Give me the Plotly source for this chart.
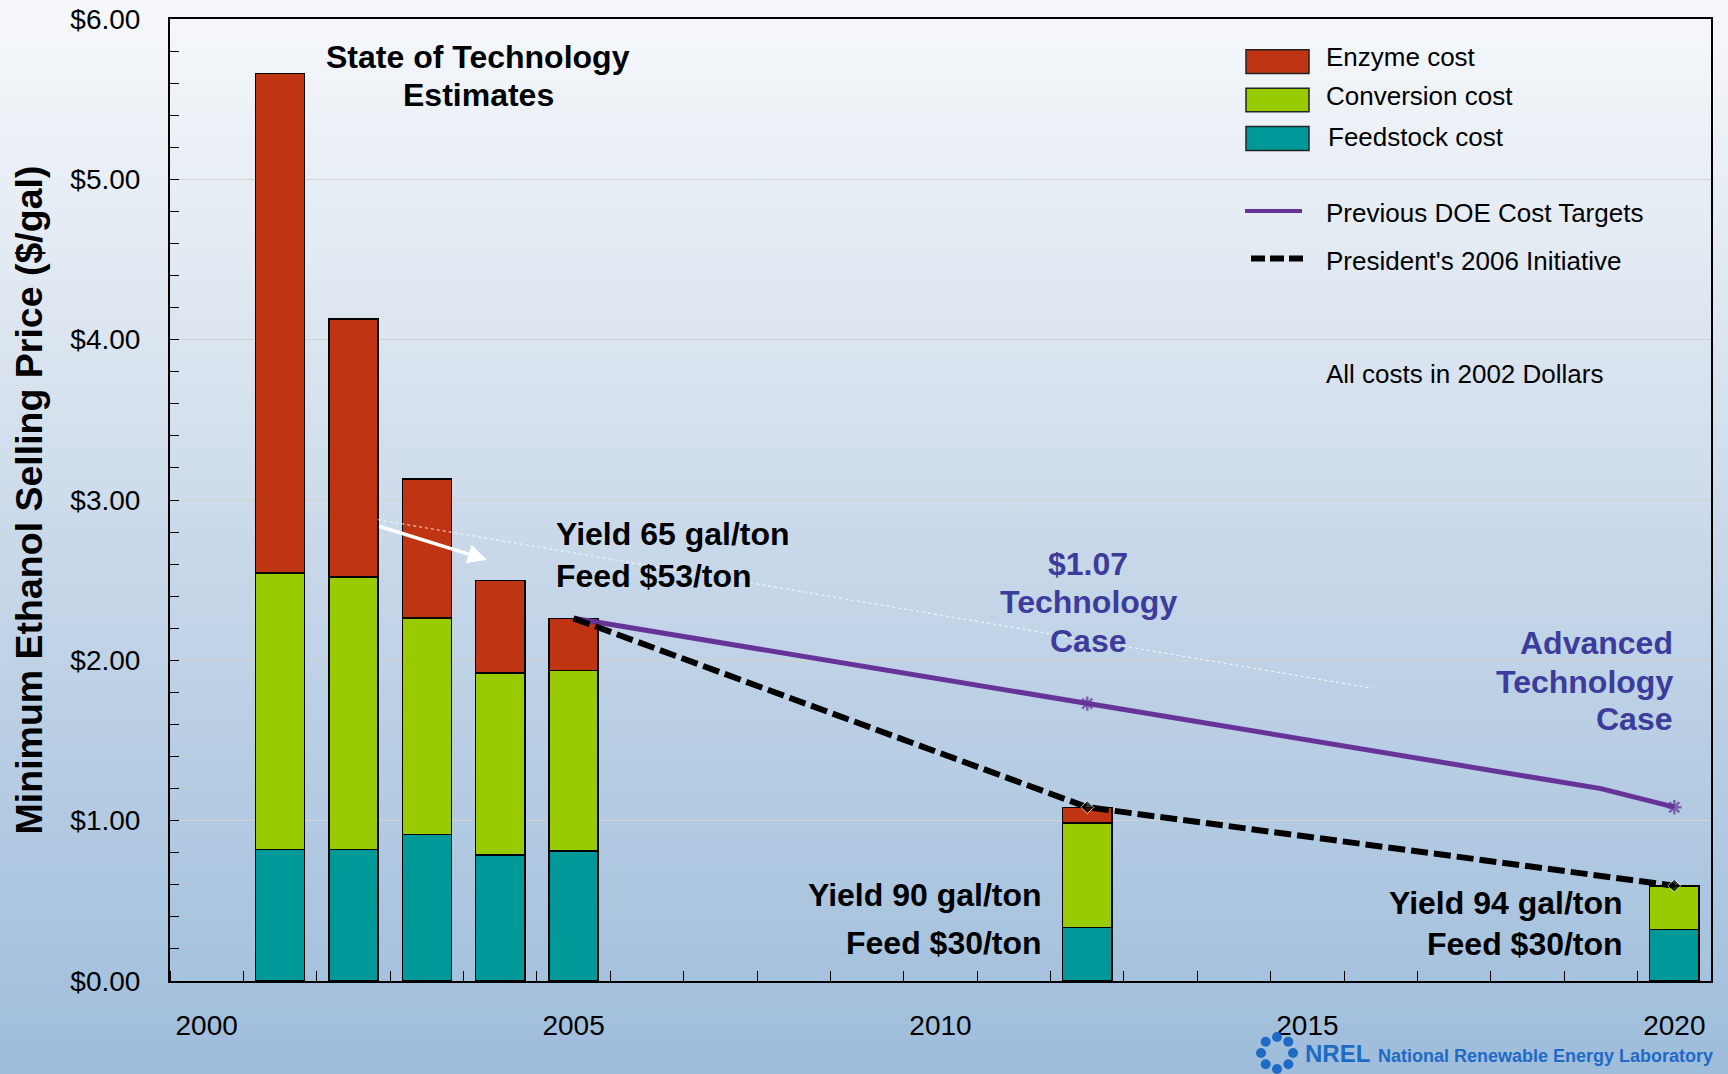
import base64
import math
import plotly.graph_objects as go

# ---------------- data ----------------
years = [2001, 2002, 2003, 2004, 2005, 2012, 2020]
feedstock_cost = [0.82, 0.82, 0.915, 0.785, 0.81, 0.335, 0.322]
conversion_cost = [1.725, 1.70, 1.35, 1.135, 1.128, 0.65, 0.272]
enzyme_cost = [3.115, 1.61, 0.865, 0.578, 0.324, 0.097, 0.0]

doe_years = [2005, 2012, 2019, 2020]
doe_targets = [2.262, 1.73, 1.20, 1.084]

pres_years = [2005, 2012, 2020]
pres_initiative = [2.262, 1.084, 0.594]

x_tick_vals = [2000, 2005, 2010, 2015, 2020]
y_tick_vals = [0, 1, 2, 3, 4, 5, 6]
y_tick_text = ["$0.00", "$1.00", "$2.00", "$3.00", "$4.00", "$5.00", "$6.00"]

# ---------------- geometry helpers (figure pixels -> paper) ----------------
W, H = 1728, 1074
ML, MR, MT, MB = 170, 17, 19, 93
PW, PH = W - ML - MR, H - MT - MB


def pp(px, py):
    return (px - ML) / PW, (H - MB - py) / PH


FONT = "Liberation Sans, Arial, sans-serif"
C_ENZ = "#BF3412"
C_CONV = "#99CC00"
C_FEED = "#009999"
C_PURPLE = "#663399"
C_LABEL = "#3C3C9C"
C_NREL = "#1F6AC3"

fig = go.Figure()

fig.add_trace(go.Bar(x=years, y=feedstock_cost, name="Feedstock cost",
                     marker=dict(color=C_FEED, line=dict(color="black", width=1.5)),
                     width=0.67))
fig.add_trace(go.Bar(x=years, y=conversion_cost, name="Conversion cost",
                     marker=dict(color=C_CONV, line=dict(color="black", width=1.5)),
                     width=0.67))
fig.add_trace(go.Bar(x=years, y=enzyme_cost, name="Enzyme cost",
                     marker=dict(color=C_ENZ, line=dict(color="black", width=1.5)),
                     width=0.67))

fig.add_trace(go.Scatter(x=doe_years, y=doe_targets, mode="lines+markers",
                         name="Previous DOE Cost Targets",
                         line=dict(color=C_PURPLE, width=5),
                         marker=dict(symbol="asterisk-open", size=[0, 12, 0, 12],
                                     color=C_PURPLE, line=dict(color=C_PURPLE, width=2.5))))
fig.add_trace(go.Scatter(x=pres_years, y=pres_initiative, mode="lines+markers",
                         name="President's 2006 Initiative",
                         line=dict(color="black", width=6, dash="17px,6px"),
                         marker=dict(symbol="diamond", size=[0, 10, 10], color="black")))

# ---------------- background gradient ----------------
svg = (
    f'<svg xmlns="http://www.w3.org/2000/svg" width="{W}" height="{H}" '
    f'viewBox="0 0 {W} {H}" preserveAspectRatio="none">'
    '<defs><linearGradient id="g" x1="0" y1="0" x2="0" y2="1">'
    '<stop offset="0" stop-color="#F6F8FB"/>'
    '<stop offset="0.3" stop-color="#DDE6F0"/>'
    '<stop offset="0.55" stop-color="#C5D6E8"/>'
    '<stop offset="1" stop-color="#9EBDDB"/>'
    '</linearGradient></defs>'
    f'<rect width="{W}" height="{H}" fill="url(#g)"/></svg>'
)
bg_src = "data:image/svg+xml;base64," + base64.b64encode(svg.encode()).decode()

images = [dict(source=bg_src, xref="paper", yref="paper",
               x=-ML / PW, y=1 + MT / PH, sizex=W / PW, sizey=H / PH,
               xanchor="left", yanchor="top", sizing="stretch", layer="below")]

# ---------------- annotations ----------------
ann = []


def txt(text, x, y, size=32, color="black", xanchor="center", bold=True, xref="x", yref="y",
        family=FONT):
    t = f"<b>{text}</b>" if bold else text
    ann.append(dict(text=t, x=x, y=y, xref=xref, yref=yref, showarrow=False,
                    xanchor=xanchor, yanchor="middle",
                    font=dict(family=family, size=size, color=color)))


txt("State of Technology", 2003.70, 5.762)
txt("Estimates", 2003.70, 5.528)
txt("Yield 65 gal/ton", 2004.73, 2.788, xanchor="left")
txt("Feed $53/ton", 2004.73, 2.527, xanchor="left")
txt("$1.07", 2012.01, 2.603, color=C_LABEL)
txt("Technology", 2012.01, 2.362, color=C_LABEL)
txt("Case", 2012.01, 2.122, color=C_LABEL)
txt("Advanced", 2020.01, 2.108, color=C_LABEL, xanchor="right")
txt("Technology", 2020.01, 1.867, color=C_LABEL, xanchor="right")
txt("Case", 2020.01, 1.634, color=C_LABEL, xanchor="right")
txt("Yield 90 gal/ton", 2011.41, 0.535, xanchor="right")
txt("Feed $30/ton", 2011.41, 0.240, xanchor="right")
txt("Yield 94 gal/ton", 2019.33, 0.487, xanchor="right")
txt("Feed $30/ton", 2019.33, 0.233, xanchor="right")

# white arrow
ann.append(dict(x=2003.82, y=2.627, ax=2002.33, ay=2.839, xref="x", yref="y",
                axref="x", ayref="y", text="", showarrow=True, arrowhead=2,
                arrowsize=1.1, arrowwidth=3.5, arrowcolor="white"))

# custom legend
legend_items = [("Enzyme cost", C_ENZ, 49.8, 73.4, 57.2, 1324),
                ("Conversion cost", C_CONV, 88.2, 111.8, 96.0, 1324),
                ("Feedstock cost", C_FEED, 126.6, 150.5, 137.4, 1326)]
shapes = []
for name, col, y0, y1, ty, tx in legend_items:
    x0p, y0p = pp(1246, y1)
    x1p, y1p = pp(1309, y0)
    shapes.append(dict(type="rect", xref="paper", yref="paper", x0=x0p, x1=x1p,
                       y0=y0p, y1=y1p, fillcolor=col, line=dict(color="#222", width=1.5)))
    xp, yp = pp(tx, ty)
    txt(name, xp, yp, size=26, xanchor="left", bold=False, xref="paper", yref="paper")

a, b = pp(1245, 211)
c, d = pp(1302, 211)
shapes.append(dict(type="line", xref="paper", yref="paper", x0=a, x1=c, y0=b, y1=d,
                   line=dict(color=C_PURPLE, width=4)))
xp, yp = pp(1324, 212.8)
txt("Previous DOE Cost Targets", xp, yp, size=26, xanchor="left", bold=False, xref="paper", yref="paper")
a, b = pp(1251, 258.6)
c, d = pp(1306, 258.6)
shapes.append(dict(type="line", xref="paper", yref="paper", x0=a, x1=c, y0=b, y1=d,
                   line=dict(color="black", width=6, dash="14px,5px")))
xp, yp = pp(1324, 261)
txt("President's 2006 Initiative", xp, yp, size=26, xanchor="left", bold=False, xref="paper", yref="paper")
xp, yp = pp(1324, 373.7)
txt("All costs in 2002 Dollars", xp, yp, size=26, xanchor="left", bold=False, xref="paper", yref="paper")

# faint dotted white line
shapes.append(dict(type="line", xref="x", yref="y", x0=2002.33, y0=2.877, x1=2015.88, y1=1.826,
                   line=dict(color="rgba(255,255,255,0.85)", width=1, dash="dot")))

# NREL logo
cx, cy = 1277, 1053
for k in range(8):
    ang = k * math.pi / 4
    px = cx + 16 * math.cos(ang)
    py = cy + 16 * math.sin(ang)
    x0p, y0p = pp(px - 5, py + 5)
    x1p, y1p = pp(px + 5, py - 5)
    shapes.append(dict(type="circle", xref="paper", yref="paper", x0=x0p, x1=x1p,
                       y0=y0p, y1=y1p, fillcolor=C_NREL, line=dict(width=0)))
xp, yp = pp(1303, 1053)
txt("NREL", xp, yp, size=24, color=C_NREL, xanchor="left", xref="paper", yref="paper")
xp, yp = pp(1376, 1056)
txt("National Renewable Energy Laboratory", xp, yp, size=18, color=C_NREL, xanchor="left",
    xref="paper", yref="paper")

fig.update_layout(
    width=W, height=H, autosize=False,
    margin=dict(l=ML, r=MR, t=MT, b=MB, pad=0, autoexpand=False),
    barmode="stack",
    showlegend=False,
    paper_bgcolor="#C8D8EA",
    plot_bgcolor="rgba(0,0,0,0)",
    font=dict(family=FONT, color="black"),
    images=images,
    annotations=ann,
    shapes=shapes,
    xaxis=dict(range=[1999.5, 2020.5], tickvals=x_tick_vals, ticks="", automargin=False,
               showgrid=False, zeroline=False, showline=True, linecolor="black",
               linewidth=2, mirror=True,
               tickfont=dict(family=FONT, size=28, color="black"),
               ticklabelstandoff=18,
               minor=dict(tick0=1999.5, dtick=1, ticks="inside", ticklen=10,
                          tickcolor="black", tickwidth=1, showgrid=False)),
    yaxis=dict(range=[0, 6], tickvals=y_tick_vals, ticktext=y_tick_text, automargin=False,
               ticks="inside", ticklen=9, tickcolor="black",
               showgrid=True, gridcolor="#D3D3CE", gridwidth=1,
               zeroline=False, showline=True, linecolor="black", linewidth=2, mirror=True,
               tickfont=dict(family=FONT, size=28, color="black"),
               ticklabelstandoff=22,
               minor=dict(dtick=0.2, ticks="inside", ticklen=9, tickcolor="black",
                          showgrid=False),
               title=dict(text="<b>Minimum Ethanol Selling Price ($/gal)</b>",
                          font=dict(family=FONT, size=37.5, color="black"), standoff=16)),
)

fig.write_html("out.html", config={"displayModeBar": False},
               post_script="document.body.style.margin='0';")
